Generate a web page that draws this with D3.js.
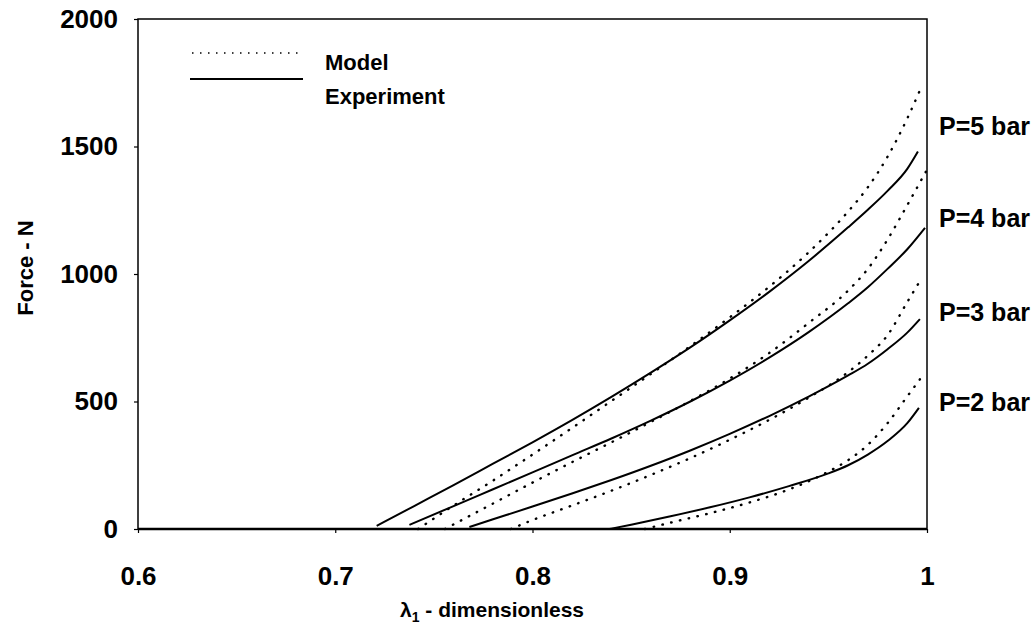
<!DOCTYPE html>
<html>
<head>
<meta charset="utf-8">
<script src="https://cdn.jsdelivr.net/npm/d3@7"></script>
<style>
  body { margin: 0; background: #fff; }
  text { font-family: "Liberation Sans", Arial, sans-serif; font-weight: bold; fill: #000; }
</style>
</head>
<body>
<svg id="chart" width="1034" height="637"></svg>
<script>
// Data: [lambda_1, force N]
const expP5 = [[0.721, 12], [0.74, 90], [0.76, 172], [0.78, 256], [0.80, 340], [0.82, 427], [0.84, 518],
  [0.86, 613], [0.88, 712], [0.90, 818], [0.92, 930], [0.94, 1051], [0.96, 1183], [0.97, 1252],
  [0.98, 1326], [0.99, 1412], [0.9954, 1480]];
const modelP5 = [[0.742, 0], [0.76, 92], [0.78, 190], [0.80, 292], [0.82, 396], [0.84, 502], [0.86, 608],
  [0.88, 717], [0.90, 830], [0.92, 950], [0.94, 1085], [0.96, 1245], [0.97, 1340], [0.98, 1460],
  [0.99, 1610], [0.9964, 1720]];

const expP4 = [[0.7376, 16], [0.76, 90], [0.78, 156], [0.80, 222], [0.82, 289], [0.84, 355], [0.86, 425],
  [0.88, 500], [0.90, 582], [0.92, 672], [0.94, 772], [0.96, 885], [0.97, 948], [0.98, 1020],
  [0.99, 1097], [0.999, 1181]];
const modelP4 = [[0.7556, 0], [0.78, 100], [0.80, 182], [0.82, 262], [0.84, 340], [0.86, 420], [0.88, 502],
  [0.90, 590], [0.92, 690], [0.94, 808], [0.96, 935], [0.97, 1020], [0.98, 1135], [0.99, 1270],
  [0.9995, 1402]];

const expP3 = [[0.768, 8], [0.78, 38], [0.80, 88], [0.82, 139], [0.84, 192], [0.86, 248], [0.88, 308],
  [0.90, 373], [0.92, 443], [0.94, 519], [0.96, 602], [0.97, 648], [0.98, 705], [0.99, 770],
  [0.9964, 823]];
const modelP3 = [[0.789, 0], [0.80, 35], [0.82, 92], [0.84, 150], [0.86, 212], [0.88, 278], [0.90, 350],
  [0.92, 428], [0.94, 515], [0.96, 615], [0.97, 680], [0.98, 760], [0.99, 890], [0.9964, 972]];

const expP2 = [[0.839, 0], [0.85, 17], [0.87, 50], [0.89, 85], [0.91, 124], [0.93, 168], [0.95, 218],
  [0.96, 250], [0.97, 292], [0.98, 345], [0.99, 415], [0.9959, 475]];
const modelP2 = [[0.857, 0], [0.87, 25], [0.89, 62], [0.91, 104], [0.93, 155], [0.95, 225], [0.96, 270],
  [0.97, 330], [0.98, 415], [0.99, 520], [0.9964, 587]];

const xTicks = [0.6, 0.7, 0.8, 0.9, 1];
const yTicks = [0, 500, 1000, 1500, 2000];

// Pressure labels on the right, at the force level they sit beside
const pressureLabels = ["P=5 bar", "P=4 bar", "P=3 bar", "P=2 bar"];
const pressureLabelForce = [1580, 1220, 850, 500];

const legendNames = ["Model", "Experiment"];

const svg = d3.select("#chart");
svg.append("rect").attr("width", 1034).attr("height", 637).attr("fill", "#fff");

const plot = { left: 138, right: 927, top: 19, bottom: 529 };

const x = d3.scaleLinear().domain([0.6, 1]).range([plot.left, plot.right]);
const y = d3.scaleLinear().domain([0, 2000]).range([plot.bottom, plot.top]);

// axes
const xAxis = svg.append("g")
  .attr("transform", `translate(0,${plot.bottom})`)
  .call(d3.axisBottom(x).tickValues(xTicks).tickSize(4).tickPadding(34)
    .tickFormat(d => d === 1 ? "1" : d3.format(".1f")(d)));
const yAxis = svg.append("g")
  .attr("transform", `translate(${plot.left},0)`)
  .call(d3.axisLeft(y).tickValues(yTicks).tickSize(4).tickPadding(16).tickFormat(d3.format("d")));

[xAxis, yAxis].forEach(g => {
  g.select(".domain").remove();
  g.selectAll("line").attr("stroke", "#000").attr("stroke-width", 1.2);
  g.selectAll("text").style("font-size", "26px").style("font-family", '"Liberation Sans", Arial, sans-serif')
    .style("font-weight", "bold").attr("fill", "#000");
});

// frame
svg.append("rect")
  .attr("x", plot.left).attr("y", plot.top)
  .attr("width", plot.right - plot.left).attr("height", plot.bottom - plot.top)
  .attr("fill", "none").attr("stroke", "#000").attr("stroke-width", 1.5);
svg.append("line")
  .attr("x1", plot.left).attr("x2", plot.right)
  .attr("y1", y(0)).attr("y2", y(0))
  .attr("stroke", "#000").attr("stroke-width", 2.5);

const line = d3.line()
  .x(d => x(d[0]))
  .y(d => y(d[1]))
  .curve(d3.curveMonotoneX);

const models = [modelP5, modelP4, modelP3, modelP2];
const exps = [expP5, expP4, expP3, expP2];

svg.append("g").selectAll("path")
  .data(models)
  .enter()
  .append("path")
  .attr("d", line)
  .attr("fill", "none")
  .attr("stroke", "#000")
  .attr("stroke-width", 2.4)
  .attr("stroke-linecap", "round")
  .attr("stroke-dasharray", "0.5,8.5");

svg.append("g").selectAll("path")
  .data(exps)
  .enter()
  .append("path")
  .attr("d", line)
  .attr("fill", "none")
  .attr("stroke", "#000")
  .attr("stroke-width", 2);

// pressure labels
svg.append("g").selectAll("text")
  .data(pressureLabels)
  .enter()
  .append("text")
  .attr("x", plot.right + 12)
  .attr("y", (d, i) => y(pressureLabelForce[i]))
  .attr("dy", "0.36em")
  .style("font-size", "25px")
  .text(d => d);

// legend
const legend = svg.append("g");
legend.append("line")
  .attr("x1", 192).attr("x2", 299).attr("y1", 53).attr("y2", 53)
  .attr("stroke", "#000").attr("stroke-width", 1.5).attr("stroke-dasharray", "1.5,6.5");
legend.append("line")
  .attr("x1", 190).attr("x2", 303).attr("y1", 79).attr("y2", 79)
  .attr("stroke", "#000").attr("stroke-width", 2);
legend.selectAll("text")
  .data(legendNames)
  .enter()
  .append("text")
  .attr("x", 325)
  .attr("y", (d, i) => i === 0 ? 70 : 104)
  .style("font-size", "22px")
  .text(d => d);

// axis titles
svg.append("text")
  .attr("transform", "translate(33,268) rotate(-90)")
  .attr("text-anchor", "middle")
  .style("font-size", "22px")
  .text("Force - N");

const xTitle = svg.append("text")
  .attr("x", 492).attr("y", 617)
  .attr("text-anchor", "middle")
  .style("font-size", "21px");
xTitle.append("tspan").text("λ");
xTitle.append("tspan").attr("dy", 5).style("font-size", "14px").text("1");
xTitle.append("tspan").attr("dy", -5).text(" - dimensionless");
</script>
</body>
</html>
